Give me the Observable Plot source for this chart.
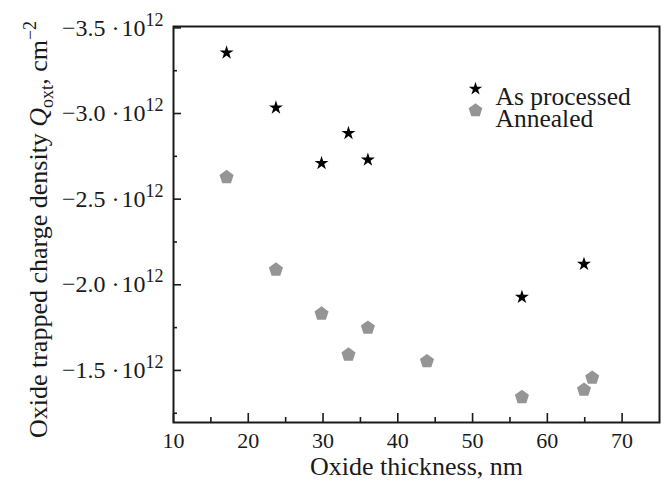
<!DOCTYPE html>
<html><head><meta charset="utf-8">
<script src="https://cdn.jsdelivr.net/npm/d3@7"></script>
<script src="https://cdn.jsdelivr.net/npm/@observablehq/plot@0.6"></script>
<style>
body{margin:0;background:#fff}
svg{font-family:"Liberation Serif","Times New Roman",serif}
</style>
</head><body><div id="chart"></div>
<script>
// As processed (stars)
const asProcessedX = [17.1, 23.7, 29.8, 33.4, 36.0, 56.6, 64.9];
const asProcessedY = [-3.355e12, -3.034e12, -2.710e12, -2.885e12, -2.730e12, -1.928e12, -2.121e12];
// Annealed (pentagons)
const annealedX = [17.1, 23.7, 29.8, 33.4, 36.0, 43.9, 56.6, 64.9, 66.0];
const annealedY = [-2.628e12, -2.088e12, -1.831e12, -1.592e12, -1.749e12, -1.553e12, -1.344e12, -1.387e12, -1.457e12];

const xMajor = [10, 20, 30, 40, 50, 60, 70];
const xMinor = [15, 25, 35, 45, 55, 65];
const yMajor = [-3.5e12, -3.0e12, -2.5e12, -2.0e12, -1.5e12];
const yMinor = [-3.25e12, -2.75e12, -2.25e12, -1.75e12, -1.25e12];
const legendLabels = ["As processed", "Annealed"];
const xTitle = "Oxide thickness, nm";
const yTitleParts = ["Oxide trapped charge density ", "Q", "oxt", ", cm", "\u22122"];

const asProcessed = asProcessedX.map((x, i) => ({x, y: asProcessedY[i]}));
const annealed = annealedX.map((x, i) => ({x, y: annealedY[i]}));

const pentagon = {
  draw(ctx, size) {
    const R = Math.sqrt(size / Math.PI);
    for (let i = 0; i < 5; i++) {
      const a = -Math.PI / 2 + i * 2 * Math.PI / 5;
      const px = R * Math.cos(a), py = R * Math.sin(a);
      if (i === 0) ctx.moveTo(px, py); else ctx.lineTo(px, py);
    }
    ctx.closePath();
  }
};

const fmtY = v => "\u2212" + Math.abs(v / 1e12).toFixed(1) + " \u00b7\u200a10^12";
const ink = "#1a1a1a";

const svg = Plot.plot({
  width: 665, height: 495,
  marginLeft: 173, marginRight: 6, marginTop: 26, marginBottom: 73,
  style: {fontFamily: "Liberation Serif, Times New Roman, serif", fontSize: "22px", color: ink, background: "#fff"},
  x: {domain: [10, 75], label: null},
  y: {domain: [-1.196e12, -3.508e12], label: null},
  marks: [
    Plot.axisY(yMajor, {tickSize: -8, fill: "none", label: null, strokeWidth: 1.6}),
    Plot.axisY(yMinor, {tickSize: -4, fill: "none", label: null, strokeWidth: 1.6}),
    Plot.axisY(yMajor, {tickSize: 0, tickPadding: 10, tickFormat: fmtY, label: null, fontSize: 24, fill: ink}),
    Plot.axisX(xMajor, {tickSize: -9, fill: "none", label: null, strokeWidth: 1.6}),
    Plot.axisX(xMinor, {tickSize: -5, fill: "none", label: null, strokeWidth: 1.6}),
    Plot.axisX(xMajor, {tickSize: 0, tickPadding: 10, tickFormat: d => String(d), label: null, fontSize: 22, fill: ink}),
    Plot.frame({stroke: ink, strokeWidth: 2}),
    Plot.dot(annealed, {x: "x", y: "y", symbol: pentagon, r: 7.4, fill: "#959595", stroke: "none"}),
    Plot.dot(asProcessed, {x: "x", y: "y", symbol: "star", r: 4.4, fill: "#000", stroke: "none"}),
    // legend
    Plot.dot([legendLabels[0]], {frameAnchor: "top-left", dx: 302, dy: 62.3, symbol: "star", r: 4.2, fill: "#000", stroke: "none"}),
    Plot.dot([legendLabels[1]], {frameAnchor: "top-left", dx: 302, dy: 84, symbol: pentagon, r: 7.2, fill: "#959595", stroke: "none"}),
    Plot.text([legendLabels[0]], {frameAnchor: "top-left", dx: 322, dy: 60.7, textAnchor: "start", fontSize: 25.5, fill: ink}),
    Plot.text([legendLabels[1]], {frameAnchor: "top-left", dx: 322, dy: 82.7, textAnchor: "start", fontSize: 25.5, fill: ink}),
    // titles
    Plot.text([xTitle], {frameAnchor: "bottom", dy: 52.7, textAnchor: "middle", fontSize: 26, fill: ink}),
    Plot.text([yTitleParts.join("")], {frameAnchor: "left", textAnchor: "middle", rotate: -90, dx: -135, dy: 5, fontSize: 26, fill: ink, ariaLabel: () => "ytitle"})
  ]
});

// superscripts on y tick labels
d3.select(svg).selectAll('g[aria-label="y-axis tick label"] text').each(function() {
  const s = this.textContent;
  const [a, b] = s.split("^");
  this.textContent = a;
  d3.select(this).append("tspan").attr("dy", "-10").attr("font-size", "18px").text(b);
});

// rich y title
d3.select(svg).selectAll("text").filter(function() {
  return this.textContent === yTitleParts.join("");
}).each(function() {
  const t = d3.select(this);
  this.textContent = "";
  t.append("tspan").text(yTitleParts[0]);
  t.append("tspan").attr("font-style", "italic").text(yTitleParts[1]);
  t.append("tspan").attr("font-size", "18px").attr("dy", "6").text(yTitleParts[2]);
  t.append("tspan").attr("dy", "-6").text(yTitleParts[3]);
  t.append("tspan").attr("font-size", "18px").attr("dy", "-11").text(yTitleParts[4]);
});

document.getElementById("chart").appendChild(svg);
</script>
</body></html>
